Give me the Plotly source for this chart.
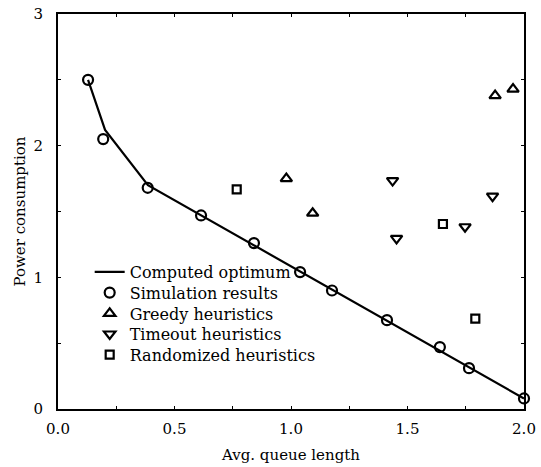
import plotly.graph_objects as go

# Computed optimum (line)
opt_x = [0.129, 0.202, 0.386, 2.0]
opt_y = [2.50, 2.12, 1.70, 0.08]

# Simulation results (circles)
sim_x = [0.129, 0.194, 0.385, 0.614, 0.841, 1.039, 1.176, 1.412, 1.639, 1.764, 2.0]
sim_y = [2.50, 2.05, 1.68, 1.47, 1.26, 1.04, 0.90, 0.675, 0.47, 0.31, 0.08]

# Greedy heuristics (up triangles)
greedy_x = [0.980, 1.093, 1.876, 1.953]
greedy_y = [1.75, 1.487, 2.38, 2.43]

# Timeout heuristics (down triangles)
timeout_x = [1.436, 1.453, 1.747, 1.865]
timeout_y = [1.735, 1.296, 1.384, 1.617]

# Randomized heuristics (squares)
rand_x = [0.767, 1.652, 1.791]
rand_y = [1.668, 1.405, 0.687]

FONT = "DejaVu Serif"
T, B = 14, 58
PLOT_H = 467 - T - B

fig = go.Figure()
fig.add_trace(go.Scatter(x=opt_x, y=opt_y, mode="lines", name="Computed optimum",
                         line=dict(color="black", width=2.2), cliponaxis=False,
                         legend="legend"))
fig.add_trace(go.Scatter(x=sim_x, y=sim_y, mode="markers", name="Simulation results",
                         marker=dict(symbol="circle-open", size=10, color="black",
                                     line=dict(color="black", width=2.2)), cliponaxis=False,
                         legend="legend2"))
fig.add_trace(go.Scatter(x=greedy_x, y=greedy_y, mode="markers", name="Greedy heuristics",
                         marker=dict(symbol="triangle-up-open", size=10, color="black",
                                     line=dict(color="black", width=2.2)), cliponaxis=False,
                         legend="legend3"))
fig.add_trace(go.Scatter(x=timeout_x, y=timeout_y, mode="markers", name="Timeout heuristics",
                         marker=dict(symbol="triangle-down-open", size=10, color="black",
                                     line=dict(color="black", width=2.2)), cliponaxis=False,
                         legend="legend4"))
fig.add_trace(go.Scatter(x=rand_x, y=rand_y, mode="markers", name="Randomized heuristics",
                         marker=dict(symbol="square-open", size=8, color="black",
                                     line=dict(color="black", width=2.2)), cliponaxis=False,
                         legend="legend5"))

axis_common = dict(showline=True, linecolor="black", linewidth=2, mirror="allticks",
                   ticks="inside", ticklen=3, tickwidth=1.2, tickcolor="black",
                   showgrid=False, zeroline=False, automargin=False,
                   tickfont=dict(family=FONT, size=15, color="black"))

row_px = [272, 292.7, 313.4, 334.1, 354.8]
legends = {}
for i, py in enumerate(row_px):
    key = "legend" if i == 0 else f"legend{i+1}"
    legends[key] = dict(x=0.068, y=(467 - B - py) / PLOT_H, xanchor="left", yanchor="middle",
                        bgcolor="rgba(0,0,0,0)", font=dict(family=FONT, size=16, color="black"),
                        itemwidth=30)

fig.update_layout(
    width=541, height=467,
    margin=dict(l=58, r=17, t=T, b=B),
    paper_bgcolor="white", plot_bgcolor="white",
    font=dict(family=FONT, size=15, color="black"),
    showlegend=True,
    xaxis=dict(range=[0, 2], tickvals=[0, 0.5, 1.0, 1.5, 2.0],
               ticktext=["0.0", "0.5", "1.0", "1.5", "2.0"],
               minor=dict(dtick=0.25, ticks="inside", ticklen=3, tickcolor="black"),
               ticklabelstandoff=5,
               title=dict(text="Avg. queue length", standoff=12,
                          font=dict(family=FONT, size=15, color="black")),
               **axis_common),
    yaxis=dict(range=[0, 3], tickvals=[0, 1, 2, 3],
               minor=dict(dtick=0.5, ticks="inside", ticklen=3, tickcolor="black"),
               ticklabelstandoff=10,
               title=dict(text="Power consumption", standoff=4,
                          font=dict(family=FONT, size=15, color="black")),
               **axis_common),
    **legends,
)

fig.write_html("out.html")
